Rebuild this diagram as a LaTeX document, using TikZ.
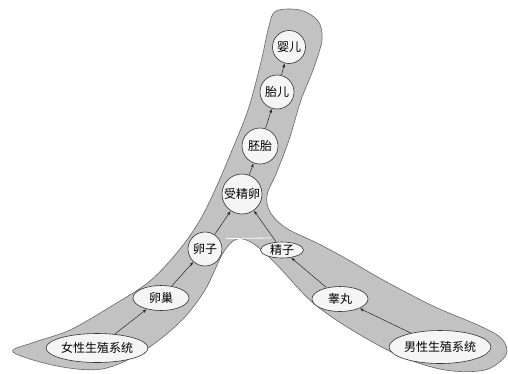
\documentclass[tikz,border=0pt]{standalone}
\usepackage{fontspec}
\setmainfont{Noto Sans CJK SC}
\usetikzlibrary{shapes.geometric,arrows.meta}
\tikzset{
  band/.style={fill=black!24,draw=black!60,line width=0.6pt},
  cnode/.style={circle,draw=black!80,fill=black!4,line width=0.6pt,inner sep=0pt,font=\fontsize{12}{13}\selectfont},
  enode/.style={ellipse,draw=black!80,fill=black!4,line width=0.6pt,inner sep=0pt,font=\fontsize{12}{13}\selectfont},
  arr/.style={-{Stealth[length=4pt,width=3pt]},line width=0.5pt,black!85,shorten <=0.5pt,shorten >=0.5pt}
}
\begin{document}
\begin{tikzpicture}[x=1pt,y=-1pt]
\useasboundingbox (0,0) rectangle (508,373);
\fill[white] (0,0) rectangle (508,373);
\draw[band] plot[smooth cycle,tension=0.55] coordinates {
 (276,11) (300,10) (318,21) (322,40) (313,70) (301,100) (289,140) (276,174)
 (267,195) (270,212) (286,228) (317,243) (345,258) (383,280) (433,306)
 (480,326) (502,339) (506,355) (485,370) (445,370) (400,356) (352,330)
 (312,302) (278,266) (254,244) (237,239) (223,253) (205,290) (180,322)
 (142,352) (102,369) (57,366) (13,352) (35,342) (70,330) (110,307)
 (150,281) (180,249) (200,220) (215,190) (230,155) (248,110) (261,62) (269,26)};
\draw[white,line width=0.8pt] (226,238.5) -- (271,238);
\node[cnode,minimum size=33pt] (yinger) at (289,47) {婴儿};
\node[cnode,minimum size=34pt] (taier) at (277,92) {胎儿};
\node[cnode,minimum size=36pt] (peitai) at (260,146) {胚胎};
\node[cnode,minimum size=40pt] (shoujing) at (242,194) {受精卵};
\node[enode,minimum width=32pt,minimum height=34pt] (luanzi) at (205,249) {卵子};
\node[enode,minimum width=43pt,minimum height=16pt] (jingzi) at (282,250) {精子};
\node[enode,minimum width=56pt,minimum height=25pt] (luanchao) at (161,298) {卵巢};
\node[enode,minimum width=88pt,minimum height=29pt] (nv) at (97,348) {女性生殖系统};
\node[enode,minimum width=56pt,minimum height=25pt] (gaowan) at (340,299) {睾丸};
\node[enode,minimum width=86pt,minimum height=33pt] (nan) at (440,347) {男性生殖系统};
\draw[arr] (nv) -- (luanchao);
\draw[arr] (luanchao) -- (luanzi);
\draw[arr] (luanzi) -- (shoujing);
\draw[arr] (nan) -- (gaowan);
\draw[arr] (gaowan) -- (jingzi);
\draw[arr] (jingzi) -- (shoujing);
\draw[arr] (shoujing) -- (peitai);
\draw[arr] (peitai) -- (taier);
\draw[arr] (taier) -- (yinger);
\end{tikzpicture}
\end{document}
